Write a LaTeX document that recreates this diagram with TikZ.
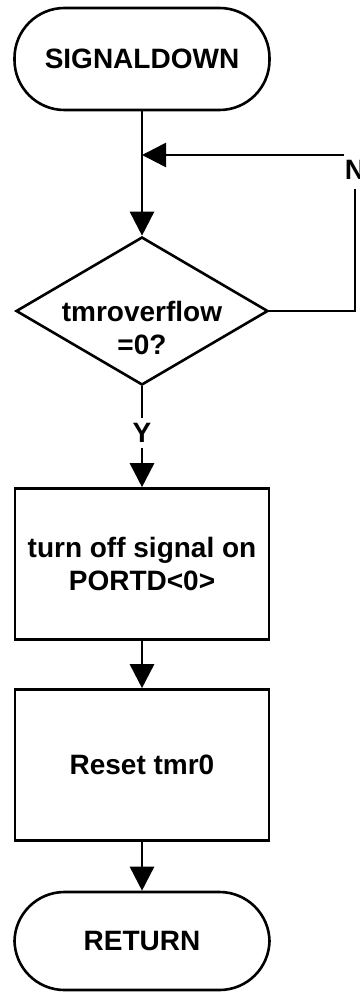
\documentclass[tikz,border=0pt]{standalone}
\usepackage{fontspec}
\setmainfont{Liberation Sans}
\usetikzlibrary{arrows.meta,shapes.geometric}
\begin{document}
\begin{tikzpicture}[x=1pt,y=-1pt,
  every node/.style={font=\fontsize{28}{33}\selectfont\bfseries, align=center},
  line/.style={line width=2.6pt},
  arr/.style={line/.try, line width=2.6pt, -{Triangle[length=24pt,width=24pt]}},
  terminal/.style={draw, line width=2.6pt, rectangle, rounded corners=50pt,
    minimum width=255pt, minimum height=102pt, inner sep=0pt},
  procbox/.style={draw, line width=2.6pt, rectangle,
    minimum width=254pt, minimum height=151pt, inner sep=0pt},
  decision/.style={draw, line width=2.6pt, diamond, inner sep=0pt,
    minimum width=252pt, minimum height=148pt},
  lbl/.style={inner xsep=0pt}]
  \useasboundingbox (0,0) rectangle (359,992);

  % flow nodes
  \node[terminal] (start) at (142,59) {SIGNALDOWN};
  \coordinate (merge) at (142,155);
  \node[decision] (dec) at (142,311) {};
  \node (dectxt) at (142,328) {tmroverflow\\=0?};
  \node[lbl, inner ysep=5pt] (yes) at (142,433) {Y};
  \node[procbox] (off) at (142,564) {turn off signal on\\PORTD<0>};
  \node[procbox] (reset) at (142,765) {Reset tmr0};
  \node[terminal, minimum height=98pt] (ret) at (142,941) {RETURN};

  % loop back label
  \node[lbl, inner ysep=9pt] (no) at (355,170) {N};
  \coordinate (looptop) at (344,155);

  % connectors
  \draw[arr] (start) -- (dec);
  \draw[line] (dec.east) -| (no.south);
  \draw[arr] (looptop) -- (merge);
  \draw[line] (dec.south) -- (yes.north);
  \draw[arr] (yes.south) -- (off.north);
  \draw[arr] (off) -- (reset);
  \draw[arr] (reset) -- (ret);
\end{tikzpicture}
\end{document}
